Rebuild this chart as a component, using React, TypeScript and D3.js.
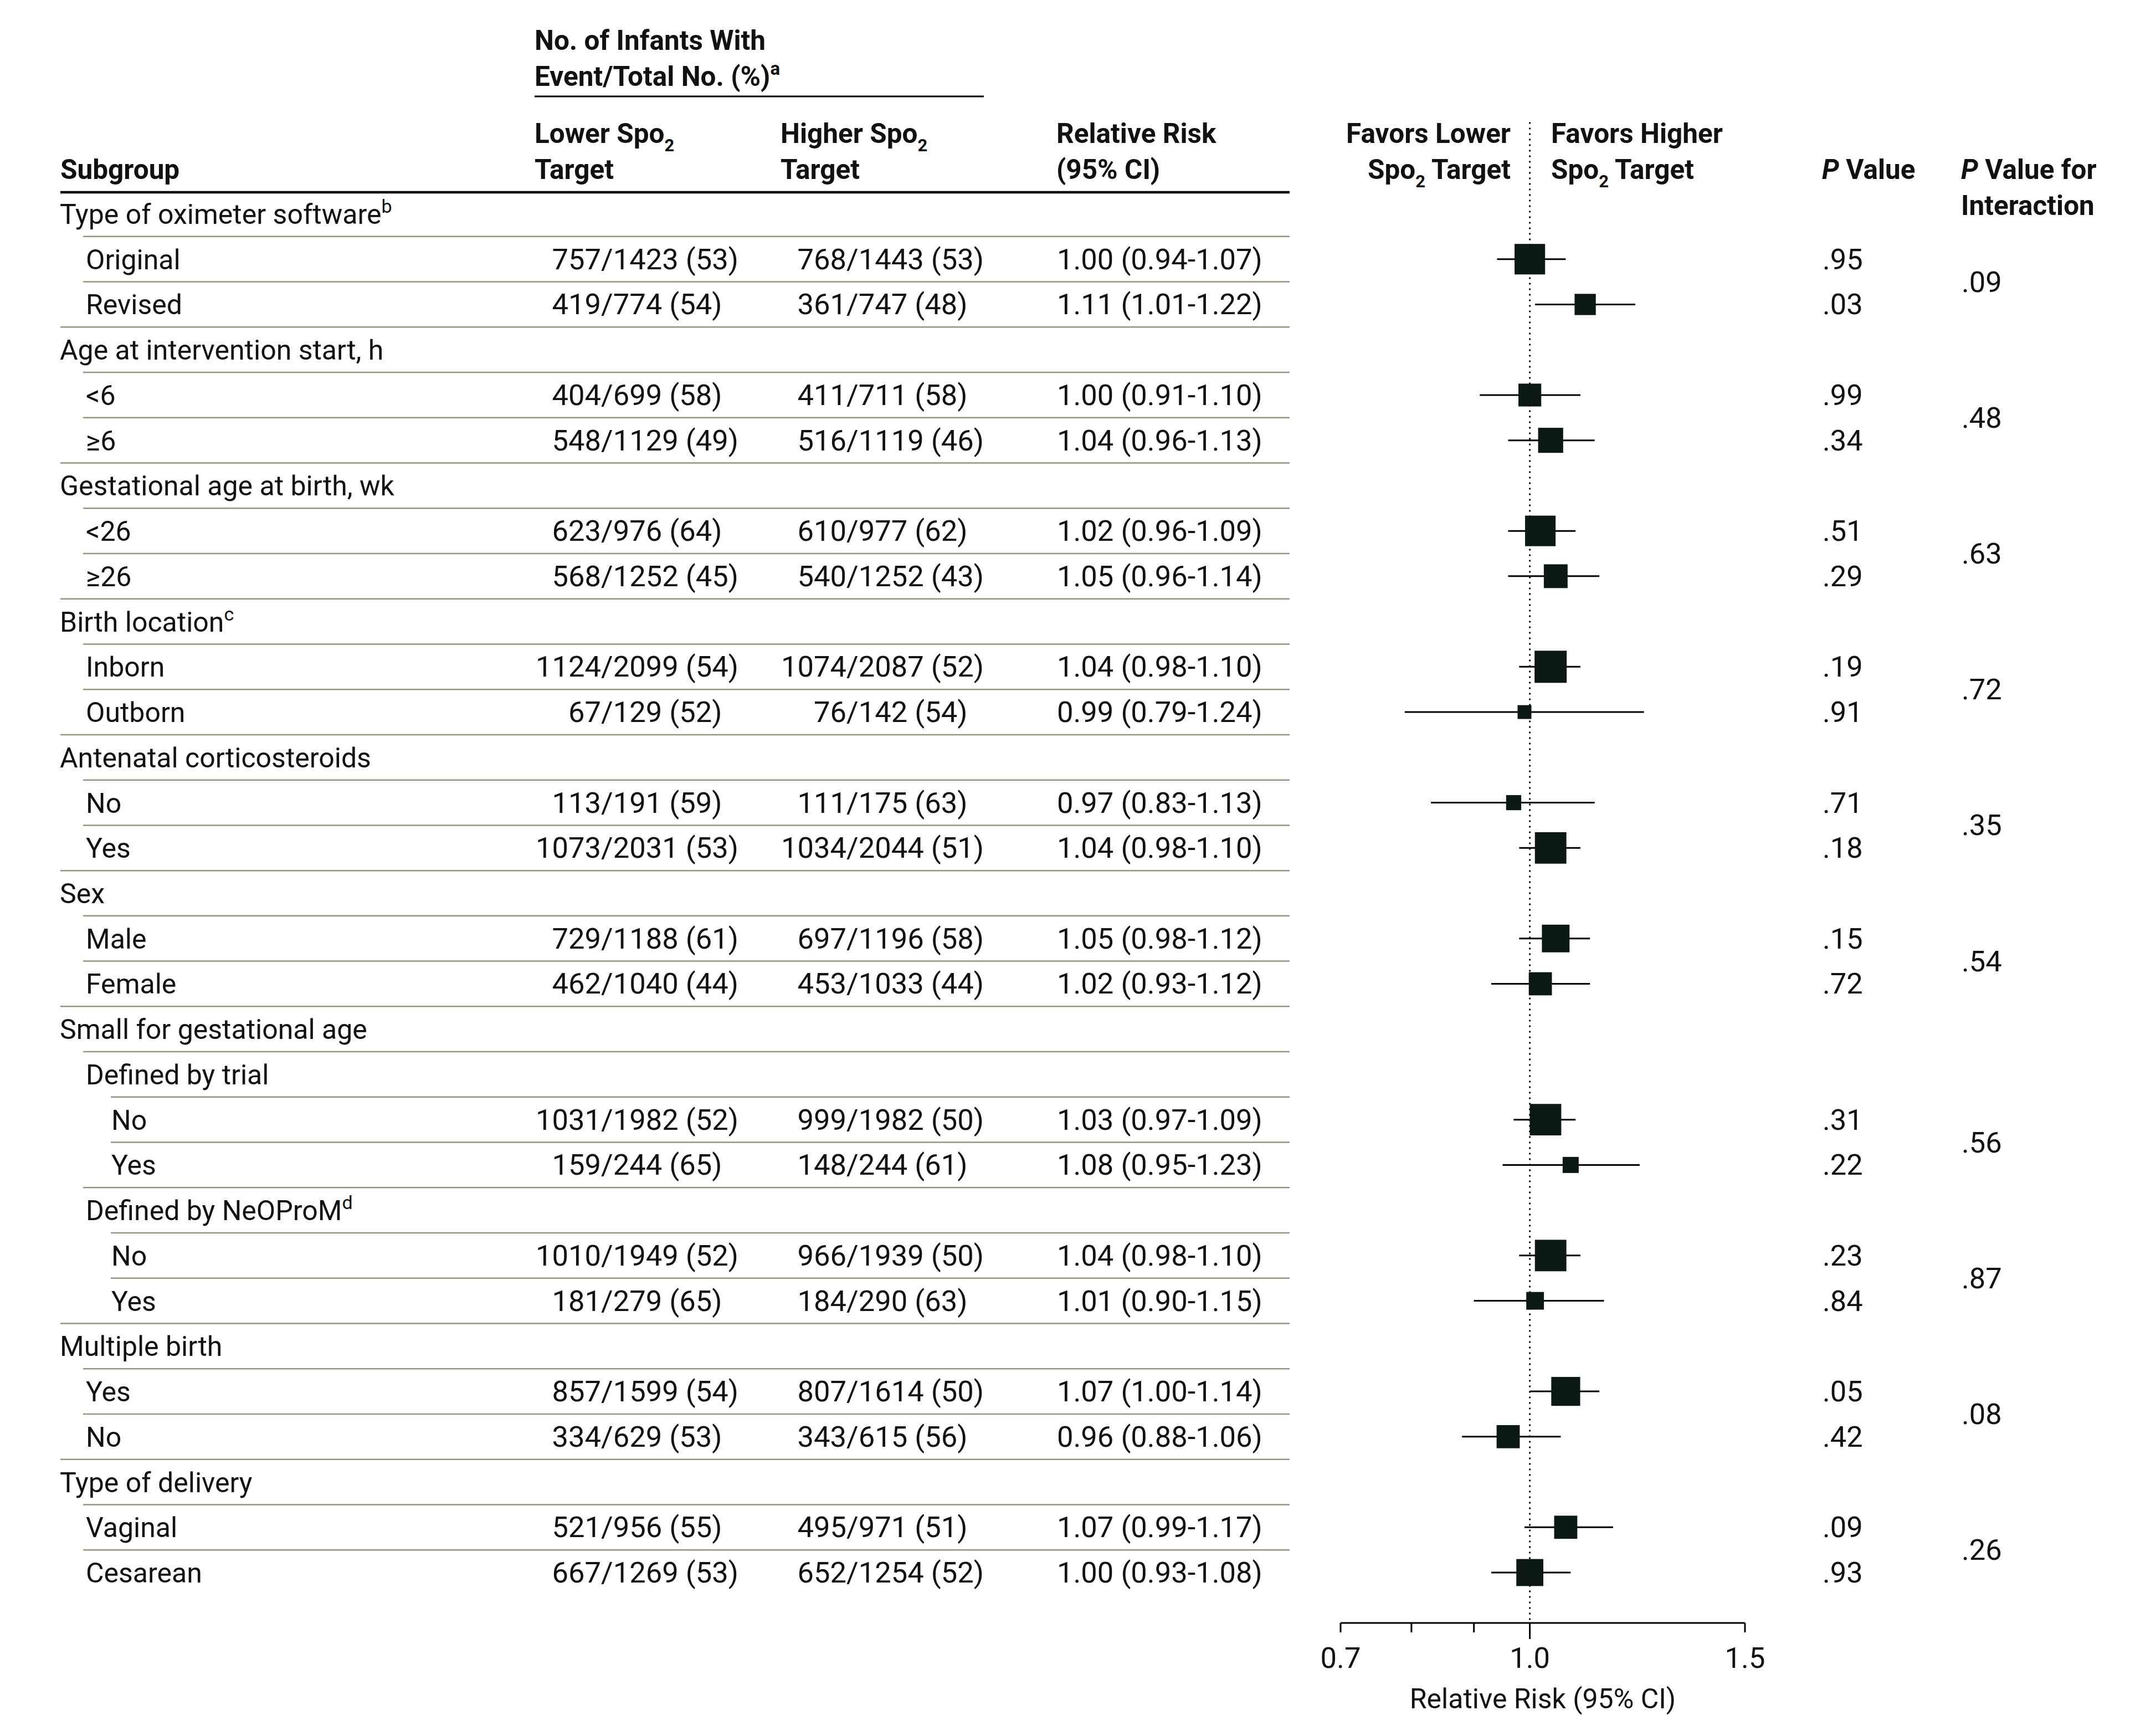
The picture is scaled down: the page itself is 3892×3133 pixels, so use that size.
import React from "react";
import * as d3 from "d3";

const N = null;

const subgroupLabels = [
  "Type of oximeter software", "Original", "Revised",
  "Age at intervention start, h", "<6", "≥6",
  "Gestational age at birth, wk", "<26", "≥26",
  "Birth location", "Inborn", "Outborn",
  "Antenatal corticosteroids", "No", "Yes",
  "Sex", "Male", "Female",
  "Small for gestational age", "Defined by trial", "No", "Yes",
  "Defined by NeOProM", "No", "Yes",
  "Multiple birth", "Yes", "No",
  "Type of delivery", "Vaginal", "Cesarean",
];
const labelNotes = ["b", "", "", "", "", "", "", "", "", "c", "", "", "", "", "", "", "", "", "", "", "", "", "d", "", "", "", "", "", "", "", ""];
const indentLevels = [0, 1, 1, 0, 1, 1, 0, 1, 1, 0, 1, 1, 0, 1, 1, 0, 1, 1, 0, 1, 2, 2, 1, 2, 2, 0, 1, 1, 0, 1, 1];

const lowerEvents = [N, 757, 419, N, 404, 548, N, 623, 568, N, 1124, 67, N, 113, 1073, N, 729, 462, N, N, 1031, 159, N, 1010, 181, N, 857, 334, N, 521, 667];
const lowerTotal = [N, 1423, 774, N, 699, 1129, N, 976, 1252, N, 2099, 129, N, 191, 2031, N, 1188, 1040, N, N, 1982, 244, N, 1949, 279, N, 1599, 629, N, 956, 1269];
const lowerPct = [N, 53, 54, N, 58, 49, N, 64, 45, N, 54, 52, N, 59, 53, N, 61, 44, N, N, 52, 65, N, 52, 65, N, 54, 53, N, 55, 53];
const higherEvents = [N, 768, 361, N, 411, 516, N, 610, 540, N, 1074, 76, N, 111, 1034, N, 697, 453, N, N, 999, 148, N, 966, 184, N, 807, 343, N, 495, 652];
const higherTotal = [N, 1443, 747, N, 711, 1119, N, 977, 1252, N, 2087, 142, N, 175, 2044, N, 1196, 1033, N, N, 1982, 244, N, 1939, 290, N, 1614, 615, N, 971, 1254];
const higherPct = [N, 53, 48, N, 58, 46, N, 62, 43, N, 52, 54, N, 63, 51, N, 58, 44, N, N, 50, 61, N, 50, 63, N, 50, 56, N, 51, 52];

const relativeRisk = [N, 1.0, 1.11, N, 1.0, 1.04, N, 1.02, 1.05, N, 1.04, 0.99, N, 0.97, 1.04, N, 1.05, 1.02, N, N, 1.03, 1.08, N, 1.04, 1.01, N, 1.07, 0.96, N, 1.07, 1.0];
const ciLower = [N, 0.94, 1.01, N, 0.91, 0.96, N, 0.96, 0.96, N, 0.98, 0.79, N, 0.83, 0.98, N, 0.98, 0.93, N, N, 0.97, 0.95, N, 0.98, 0.9, N, 1.0, 0.88, N, 0.99, 0.93];
const ciUpper = [N, 1.07, 1.22, N, 1.1, 1.13, N, 1.09, 1.14, N, 1.1, 1.24, N, 1.13, 1.1, N, 1.12, 1.12, N, N, 1.09, 1.23, N, 1.1, 1.15, N, 1.14, 1.06, N, 1.17, 1.08];
const pValues = [N, ".95", ".03", N, ".99", ".34", N, ".51", ".29", N, ".19", ".91", N, ".71", ".18", N, ".15", ".72", N, N, ".31", ".22", N, ".23", ".84", N, ".05", ".42", N, ".09", ".93"];
const studyWeights = [N, 95, 66, N, 71, 78, N, 95, 74, N, 100, 43, N, 47, 98, N, 86, 72, N, N, 98, 50, N, 98, 55, N, 90, 72, N, 72, 84];

const interactionRows = [[1, 2], [4, 5], [7, 8], [10, 11], [13, 14], [16, 17], [20, 21], [23, 24], [26, 27], [29, 30]];
const interactionP = [".09", ".48", ".63", ".72", ".35", ".54", ".56", ".87", ".08", ".26"];

const axisTicks = [0.7, 0.8, 0.9, 1.0, 1.5];
const axisLabels = [0.7, 1.0, 1.5];

const W = 3892;
const H = 3133;
const FONT = "Roboto, 'Noto Sans', Arial, sans-serif";
const FS_LABEL = 50;
const FS_NUM = 52.5;
const FS_HEAD = 49.5;
const TXT = "#111";
const RULE = "#8f977d";

export default function App() {
  const nRows = subgroupLabels.length;
  const yRow = d3.scaleLinear().domain([0, nRows - 1]).range([386, 2838]);
  const step = yRow(1) - yRow(0);
  const xRR = d3.scaleLog().domain([0.7, 1.5]).range([2420, 3150]);
  const side = d3.scaleLinear().domain([0, 100]).range([0, 58]);
  const indentText = [108, 155, 201];
  const indentRule = [109, 150, 200];
  const tableRight = 2328;
  const lowerSlashX = 1085;
  const higherSlashX = 1528;
  const rrX = 1908;
  const pX = 3290;
  const pIntX = 3541;
  const axisY = 2929;
  const baseDy = 18;

  const sub2 = (
    <tspan dy={15} fontSize={31}>2</tspan>
  );

  return (
    <svg
      width={W}
      height={H}
      viewBox={`0 0 ${W} ${H}`}
      style={{ position: "absolute", left: 0, top: 0, background: "#fff" }}
      fontFamily={FONT}
      fontSize={FS_LABEL}
      fill={TXT}
    >
      <rect x={0} y={0} width={W} height={H} fill="#fff" />

      {/* Column headers */}
      <g fontWeight={700} fontSize={FS_HEAD}>
        <text x={965} y={90}>No. of Infants With</text>
        <text x={965} y={155}>
          Event/Total No. (%)<tspan dy={-20} fontSize={33}>a</tspan>
        </text>
        <line x1={965} x2={1776} y1={174} y2={174} stroke="#000" strokeWidth={3} />

        <text x={109} y={323}>Subgroup</text>
        <text x={965} y={258}>Lower Spo{sub2}</text>
        <text x={965} y={323}>Target</text>
        <text x={1409} y={258}>Higher Spo{sub2}</text>
        <text x={1409} y={323}>Target</text>
        <text x={1907} y={258}>Relative Risk</text>
        <text x={1907} y={323}>(95% CI)</text>

        <text x={2727} y={258} textAnchor="end">Favors Lower</text>
        <text x={2727} y={323} textAnchor="end">
          Spo<tspan dy={15} fontSize={31}>2</tspan><tspan dy={-15}> Target</tspan>
        </text>
        <text x={2800} y={258}>Favors Higher</text>
        <text x={2800} y={323}>
          Spo<tspan dy={15} fontSize={31}>2</tspan><tspan dy={-15}> Target</tspan>
        </text>

        <text x={3289} y={323}>
          <tspan fontStyle="italic">P</tspan> Value
        </text>
        <text x={3540} y={323}>
          <tspan fontStyle="italic">P</tspan> Value for
        </text>
        <text x={3540} y={388}>Interaction</text>
      </g>
      <line x1={109} x2={tableRight} y1={347} y2={347} stroke="#000" strokeWidth={4.5} />

      {/* Row separators */}
      {subgroupLabels.slice(0, nRows - 1).map((_, i) => {
        const y = yRow(i) + step / 2;
        return (
          <line
            key={`rule-${i}`}
            x1={indentRule[indentLevels[i + 1]]}
            x2={tableRight}
            y1={y}
            y2={y}
            stroke={RULE}
            strokeWidth={2.5}
          />
        );
      })}

      {/* Subgroup labels */}
      {subgroupLabels.map((label, i) => (
        <text key={`lab-${i}`} x={indentText[indentLevels[i]]} y={yRow(i) + baseDy}>
          {label}
          {labelNotes[i] ? (
            <tspan dy={-20} fontSize={34}>{labelNotes[i]}</tspan>
          ) : null}
        </text>
      ))}

      {/* Counts, RR, P */}
      <g fontSize={FS_NUM}>
        {subgroupLabels.map((_, i) =>
          lowerEvents[i] == null ? null : (
            <g key={`cnt-${i}`}>
              <text x={lowerSlashX} y={yRow(i) + baseDy} textAnchor="end">{lowerEvents[i]}</text>
              <text x={lowerSlashX} y={yRow(i) + baseDy}>{`/${lowerTotal[i]} (${lowerPct[i]})`}</text>
              <text x={higherSlashX} y={yRow(i) + baseDy} textAnchor="end">{higherEvents[i]}</text>
              <text x={higherSlashX} y={yRow(i) + baseDy}>{`/${higherTotal[i]} (${higherPct[i]})`}</text>
              <text x={rrX} y={yRow(i) + baseDy}>
                {`${(relativeRisk[i] as number).toFixed(2)} (${(ciLower[i] as number).toFixed(2)}-${(ciUpper[i] as number).toFixed(2)})`}
              </text>
              <text x={pX} y={yRow(i) + baseDy}>{pValues[i]}</text>
            </g>
          )
        )}

        {/* Interaction P values */}
        {interactionRows.map(([a, b], k) => (
          <text key={`int-${k}`} x={pIntX} y={(yRow(a) + yRow(b)) / 2 + baseDy}>
            {interactionP[k]}
          </text>
        ))}
      </g>

      {/* Reference line */}
      <line
        x1={xRR(1)}
        x2={xRR(1)}
        y1={222}
        y2={axisY}
        stroke="#000"
        strokeWidth={3.5}
        strokeDasharray="0 10"
        strokeLinecap="round"
      />

      {/* Forest marks */}
      {subgroupLabels.map((_, i) => {
        if (relativeRisk[i] == null) return null;
        const y = yRow(i);
        const s = side(studyWeights[i] as number);
        return (
          <g key={`mk-${i}`}>
            <line
              x1={xRR(ciLower[i] as number)}
              x2={xRR(ciUpper[i] as number)}
              y1={y}
              y2={y}
              stroke="#000"
              strokeWidth={3}
            />
            <rect
              x={xRR(relativeRisk[i] as number) - s / 2}
              y={y - s / 2}
              width={s}
              height={s}
              fill="#0b1816"
            />
          </g>
        );
      })}

      {/* Axis */}
      <line x1={xRR(0.7)} x2={xRR(1.5)} y1={axisY} y2={axisY} stroke="#000" strokeWidth={3} />
      {axisTicks.map((t) => (
        <line
          key={`tk-${t}`}
          x1={xRR(t)}
          x2={xRR(t)}
          y1={axisY}
          y2={axisY + (t === 1 ? 29 : 17)}
          stroke="#000"
          strokeWidth={3}
        />
      ))}
      <g fontSize={FS_NUM}>
        {axisLabels.map((t) => (
          <text key={`tl-${t}`} x={xRR(t)} y={3010} textAnchor="middle">
            {d3.format(".1f")(t)}
          </text>
        ))}
      </g>
      <text x={(xRR(0.7) + xRR(1.5)) / 2} y={3083} textAnchor="middle" fontSize={FS_LABEL}>
        Relative Risk (95% CI)
      </text>
    </svg>
  );
}
